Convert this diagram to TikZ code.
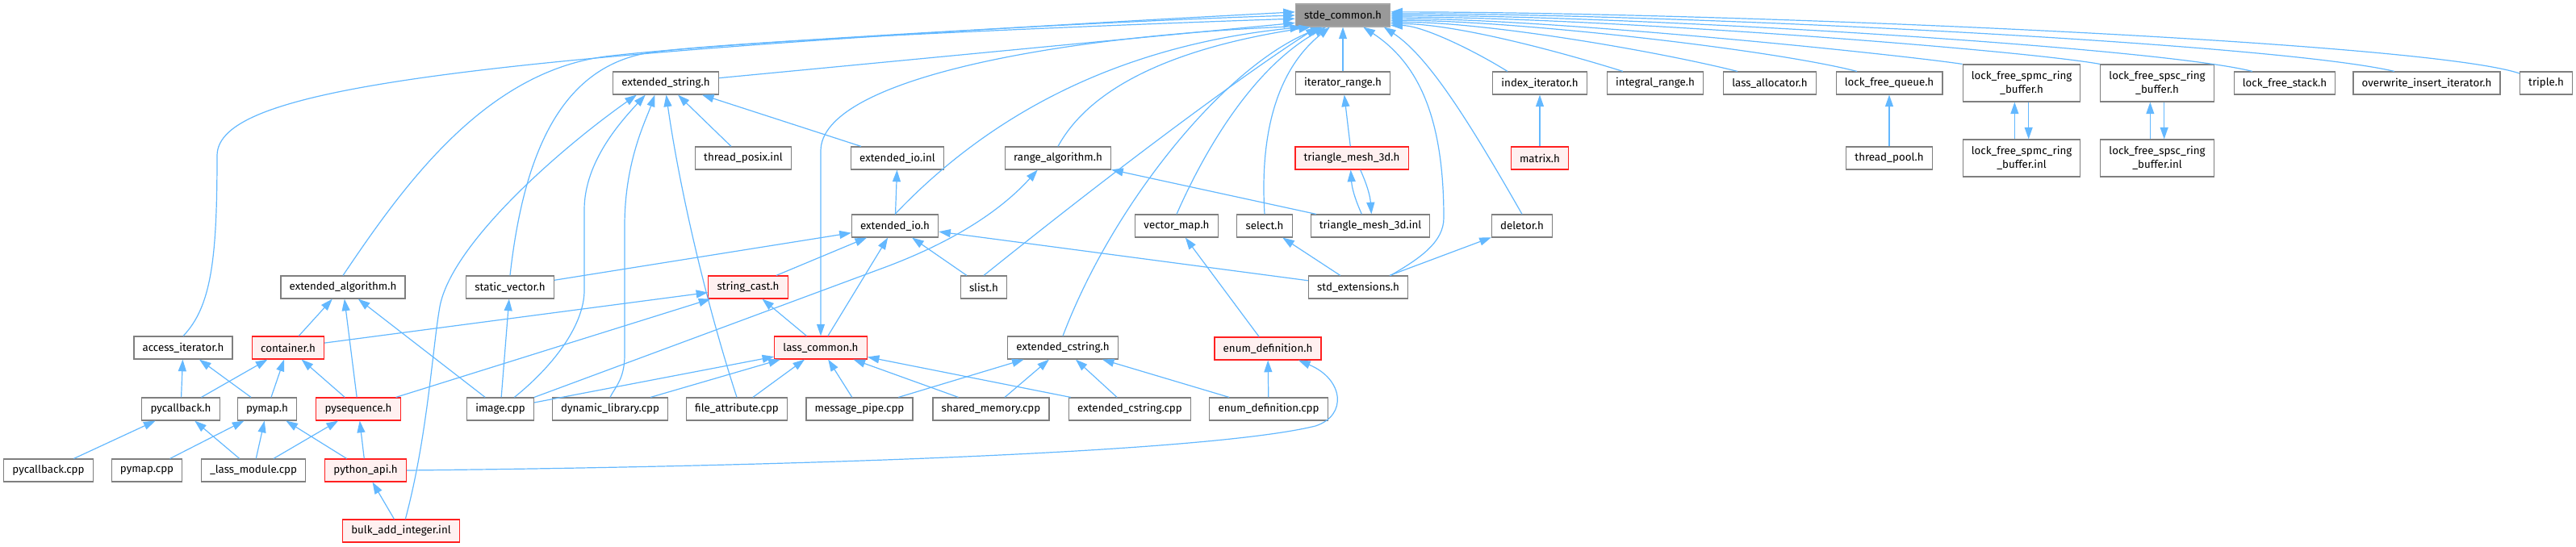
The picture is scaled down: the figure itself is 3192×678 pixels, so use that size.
\documentclass[tikz,border=0pt]{standalone}
\usepackage{fontspec}
\setmainfont{Fira Sans}
\usetikzlibrary{arrows.meta}
\definecolor{edgeblue}{HTML}{63B8FF}
\definecolor{boxgrey}{HTML}{7F7F7F}
\definecolor{rootline}{HTML}{A6A6A6}
\definecolor{rootfill}{HTML}{999999}
\definecolor{redline}{HTML}{FF2020}
\definecolor{redfill}{HTML}{FFF0F0}
\begin{document}
\begin{tikzpicture}[x=0.75pt,y=-0.75pt,
  file/.style={draw=boxgrey,fill=white,line width=0.85pt,minimum height=21pt,inner xsep=8pt,inner ysep=0pt,font=\fontsize{10}{12.5}\selectfont},
  redfile/.style={file,draw=redline,fill=redfill},
  rootfile/.style={file,draw=rootline,fill=rootfill},
  twoline/.style={file,align=center,minimum height=34.5pt},
  incl/.style={draw=edgeblue,line width=0.9pt,-{Triangle[length=11pt,width=7.5pt]}}]
\useasboundingbox (0,0) rectangle (3192,678);
% files, row by row
\node[rootfile] (stde) at (1664,19) {stde\_common.h};
\node[file] (estr) at (825,103) {extended\_string.h};
\node[file] (itr) at (1664,103) {iterator\_range.h};
\node[file] (idx) at (1908,103) {index\_iterator.h};
\node[file] (irange) at (2051,103) {integral\_range.h};
\node[file] (alloc) at (2193,103) {lass\_allocator.h};
\node[file] (lfq) at (2341,103) {lock\_free\_queue.h};
\node[twoline] (spmc) at (2505,103) {lock\_free\_spmc\_ring\\\_buffer.h};
\node[twoline] (spsc) at (2673,103) {lock\_free\_spsc\_ring\\\_buffer.h};
\node[file] (lfs) at (2831,103) {lock\_free\_stack.h};
\node[file] (owi) at (3007,103) {overwrite\_insert\_iterator.h};
\node[file] (triple) at (3155,103) {triple.h};
\node[file] (tposix) at (921,196) {thread\_posix.inl};
\node[file] (eioinl) at (1112,196) {extended\_io.inl};
\node[file] (ralg) at (1311,196) {range\_algorithm.h};
\node[redfile] (tm3h) at (1675,196) {triangle\_mesh\_3d.h};
\node[redfile] (matrix) at (1908,196) {matrix.h};
\node[file] (tpool) at (2341,196) {thread\_pool.h};
\node[twoline] (spmci) at (2505,196) {lock\_free\_spmc\_ring\\\_buffer.inl};
\node[twoline] (spsci) at (2673,196) {lock\_free\_spsc\_ring\\\_buffer.inl};
\node[file] (eio) at (1109,280) {extended\_io.h};
\node[file] (vmap) at (1458,280) {vector\_map.h};
\node[file] (select) at (1567,280) {select.h};
\node[file] (tm3i) at (1698,280) {triangle\_mesh\_3d.inl};
\node[file] (deletor) at (1886,280) {deletor.h};
\node[file] (ealg) at (425,356) {extended\_algorithm.h};
\node[file] (svec) at (632,356) {static\_vector.h};
\node[redfile] (scast) at (927,356) {string\_cast.h};
\node[file] (slist) at (1219,356) {slist.h};
\node[file] (stdext) at (1683,356) {std\_extensions.h};
\node[file] (aiter) at (227,431) {access\_iterator.h};
\node[redfile] (cont) at (357,431) {container.h};
\node[redfile] (lcommon) at (1017,431) {lass\_common.h};
\node[file] (ecstr) at (1317,431) {extended\_cstring.h};
\node[redfile] (enumh) at (1571,432) {enum\_definition.h};
\node[file] (pycb) at (224,507) {pycallback.h};
\node[file] (pymap) at (331,507) {pymap.h};
\node[redfile] (pyseq) at (444,507) {pysequence.h};
\node[file] (image) at (620,507) {image.cpp};
\node[file] (dynlib) at (756,507) {dynamic\_library.cpp};
\node[file] (fattr) at (913,507) {file\_attribute.cpp};
\node[file] (mpipe) at (1065,507) {message\_pipe.cpp};
\node[file] (shmem) at (1228,507) {shared\_memory.cpp};
\node[file] (ecstrcpp) at (1400,507) {extended\_cstring.cpp};
\node[file] (enumcpp) at (1572,507) {enum\_definition.cpp};
\node[file] (pycbcpp) at (60,583) {pycallback.cpp};
\node[file] (pymapcpp) at (182,583) {pymap.cpp};
\node[file] (lmod) at (314,583) {\_lass\_module.cpp};
\node[redfile] (pyapi) at (453,583) {python\_api.h};
\node[redfile] (bulk) at (497,658) {bulk\_add\_integer.inl};
% straight includes
\foreach \a/\b in {eio/eioinl,eioinl/estr,tposix/estr,svec/eio,scast/eio,lcommon/eio,slist/eio,stdext/eio,
  tm3i/ralg,stdext/select,stdext/deletor,enumh/vmap,itr/stde,tm3h/itr,matrix/idx,tpool/lfq,
  cont/ealg,pyseq/ealg,image/ealg,image/svec,cont/scast,pyseq/scast,lcommon/scast,
  pycb/aiter,pymap/aiter,pycb/cont,pymap/cont,pyseq/cont,pycbcpp/pycb,lmod/pycb,
  pymapcpp/pymap,lmod/pymap,pyapi/pymap,lmod/pyseq,pyapi/pyseq,bulk/pyapi,
  image/lcommon,dynlib/lcommon,fattr/lcommon,mpipe/lcommon,shmem/lcommon,ecstrcpp/lcommon,
  mpipe/ecstr,shmem/ecstr,ecstrcpp/ecstr,enumcpp/ecstr,enumcpp/enumh}
  \draw[incl] (\a) -- (\b);
\draw[incl] (estr) -- (stde.189);
% into stde_common.h from the left
\draw[incl] (aiter.north) .. controls (262,380) and (269,320) .. (269,193) .. controls (269,110) and (560,70) .. (stde.176);
\draw[incl] (ealg.north) .. controls (500,230) and (600,90) .. (750,70) .. controls (900,52) and (1400,25) .. (stde.180);
\draw[incl] (svec.north) .. controls (650,180) and (700,85) .. (800,66) .. controls (900,50) and (1400,30) .. (stde.184);
\draw[incl] (stde.193) .. controls (1300,45) and (1017,100) .. (1017,187) -- (lcommon);
% into stde_common.h from below
\draw[incl] (eio.north) .. controls (1200,170) and (1350,60) .. (stde.196);
\draw[incl] (ralg.north) .. controls (1350,110) and (1450,60) .. (stde.200);
\draw[incl] (slist.north) .. controls (1420,180) and (1560,80) .. (stde.205);
\draw[incl] (ecstr.north) .. controls (1380,250) and (1520,80) .. (stde.210);
\draw[incl] (vmap.north) .. controls (1500,170) and (1560,80) .. (stde.215);
\draw[incl] (select.north) .. controls (1560,150) and (1590,80) .. (stde.222);
\draw[incl] (stdext.20) .. controls (1760,320) and (1789,300) .. (1789,270) .. controls (1789,150) and (1760,80) .. (stde.-30);
\draw[incl] (deletor.north) .. controls (1820,150) and (1770,70) .. (stde.-16);
% into stde_common.h from the right
\foreach \n/\s/\e/\ax/\ay/\bx in {idx/160/-12/-40/-25/40,irange/160/-10/-80/-25/80,alloc/160/-8/-100/-25/120,
  lfq/160/-6/-110/-28/150,spmc/north west/-4/-80/-12/200,spsc/north west/-2/-100/-18/250,
  lfs/160/0/-120/-30/300,owi/160/2/-150/-35/350,triple/160/4/-120/-40/400}
  \draw[incl] (\n.\s) .. controls +(\ax,\ay) and +(\bx,0) .. (stde.\e);
% mutual includes
\draw[incl] ([xshift=-8pt]tm3i.north) to[bend left=10] ([xshift=-1pt]tm3h.south);
\draw[incl] ([xshift=8pt]tm3h.south) to[bend left=10] ([xshift=1pt]tm3i.north);
\draw[incl] ([xshift=-6.5pt]spmci.north) -- ([xshift=-6.5pt]spmc.south);
\draw[incl] ([xshift=6.5pt]spmc.south) -- ([xshift=6.5pt]spmci.north);
\draw[incl] ([xshift=-6.5pt]spsci.north) -- ([xshift=-6.5pt]spsc.south);
\draw[incl] ([xshift=6.5pt]spsc.south) -- ([xshift=6.5pt]spsci.north);
% long curves
\draw[incl] ([xshift=4pt]bulk.north) .. controls (530,540) and (536,430) .. (545,380) .. controls (560,300) and (700,180) .. (estr.202);
\draw[incl] ([xshift=13pt]image.north) .. controls (690,450) and (724,400) .. (724,360) -- (724,260) .. controls (724,200) and (770,150) .. (estr.210);
\draw[incl] (dynlib.north) .. controls (762,480) and (774,470) .. (774,440) -- (774,280) .. controls (774,200) and (800,150) .. (estr.227);
\draw[incl] (fattr.north) .. controls (870,360) and (840,220) .. (estr.272);
\draw[incl] (image.north east) -- (1100,330) .. controls (1200,292) and (1250,250) .. (ralg.-150);
\draw[incl] (pyapi.east) .. controls (1000,578) and (1500,560) .. (1630,528) .. controls (1670,515) and (1665,470) .. (enumh.-21);
\end{tikzpicture}
\end{document}
